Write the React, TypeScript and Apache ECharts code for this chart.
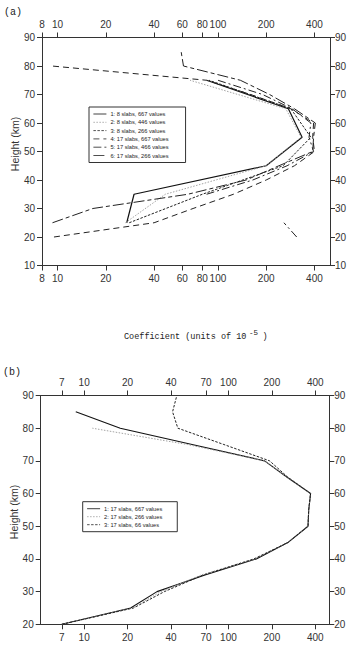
import React, { useEffect, useRef } from "react";
import * as echarts from "echarts";

// ---------- Panel (a) data ----------
const heightsA10 = [25, 35, 45, 55, 65, 75];
const heightsA5 = [20, 25, 30, 35, 40, 45, 50, 55, 60, 65, 70, 75, 80, 85];

const nameA1 = "1: 8 slabs, 667 values";
const nameA2 = "2: 8 slabs, 446 values";
const nameA3 = "3: 8 slabs, 266 values";
const nameA4 = "4: 17 slabs, 667 values";
const nameA5 = "5: 17 slabs, 466 values";
const nameA6 = "6: 17 slabs, 266 values";

const valuesA1 = [27, 30, 200, 335, 275, 85];
const valuesA2 = [26.5, 47, 200, 330, 265, 67];
const valuesA3 = [28, 80, 255, 380, 285, 88];
const valuesA4 = [9.5, 40, 70, 125, 200, 300, 400, 390, 395, 285, 160, 85, 9.2, null];
const valuesA5 = [310, 258, null, 85, 165, 270, 395, 370, 380, 290, 190, 100, null, null];
const valuesA6 = [null, 9.3, 16.6, 65, 150, 240, 390, 395, 405, 300, 210, 138, 61, 59];

const xTicksA = [8, 10, 20, 40, 60, 80, 100, 200, 400];

// ---------- Panel (b) data ----------
const heightsB = [20, 25, 30, 35, 40, 45, 50, 55, 60, 65, 70, 75, 80, 85, 90];

const nameB1 = "1: 17 slabs, 667 values";
const nameB2 = "2: 17 slabs, 266 values";
const nameB3 = "3: 17 slabs, 66 values";

const valuesB1 = [7, 21, 32, 68, 156, 258, 356, 360, 371, 255, 178, 56, 17.8, 8.75, null];
const valuesB2 = [7, 21.5, 34, 64, 152, 256, 356, 360, 371, 255, 178, 52, 11.4, null, null];
const valuesB3 = [7, 22, 36, 66, 150, 258, 356, 360, 371, 258, 193, 93, 44.6, 41, 43.9];

const xTicksB = [7, 10, 20, 40, 70, 100, 200, 400];

const AXIS_COLOR = "#333";
const TEXT_COLOR = "#333";
const FONT = "Liberation Sans";

function pairs(values: (number | null)[], heights: number[]) {
  return heights.map((h, i) => (values[i] == null ? ["-", h] : [values[i], h]));
}

function xAxisCfg(gridIndex: number, position: string, min: number, max: number, ticks: number[]) {
  return {
    type: "log",
    logBase: 10,
    gridIndex,
    position,
    min,
    max,
    axisLine: { show: true, onZero: false, lineStyle: { color: AXIS_COLOR, width: 1 } },
    axisTick: { show: true, customValues: ticks, length: 5, lineStyle: { color: AXIS_COLOR } },
    axisLabel: {
      show: true,
      customValues: ticks,
      margin: 8,
      fontSize: 10,
      color: TEXT_COLOR,
      fontFamily: FONT,
      formatter: (v: number) => String(Math.round(v)),
    },
    splitLine: { show: false },
    minorTick: { show: false },
    minorSplitLine: { show: false },
  };
}

function yAxisCfg(gridIndex: number, position: string, min: number, max: number) {
  return {
    type: "value",
    gridIndex,
    position,
    min,
    max,
    interval: 10,
    axisLine: { show: true, onZero: false, lineStyle: { color: AXIS_COLOR, width: 1 } },
    axisTick: { show: true, length: 5, lineStyle: { color: AXIS_COLOR } },
    axisLabel: { show: true, margin: position === "left" ? 7 : 5, fontSize: 10, color: TEXT_COLOR, fontFamily: FONT },
    splitLine: { show: false },
  };
}

function lineSeries(name: string, data: any[], xi: number, yi: number, type: any, color: string, width: number) {
  return {
    name,
    type: "line",
    xAxisIndex: xi,
    yAxisIndex: yi,
    data,
    symbol: "none",
    showSymbol: false,
    connectNulls: false,
    lineStyle: { color, width, type },
    itemStyle: { color },
    emphasis: { disabled: true },
  };
}

export default function App() {
  const ref = useRef<HTMLDivElement>(null);

  useEffect(() => {
    if (!ref.current) return;
    const chart = echarts.init(ref.current, null, { renderer: "svg" });

    const legendCommon = {
      orient: "vertical",
      itemWidth: 13,
      itemHeight: 6,
      itemGap: 2.3,
      borderColor: "#333",
      borderWidth: 1,
      backgroundColor: "#fff",
      textStyle: { fontSize: 5.7, color: "#222", fontFamily: FONT, padding: [0, 0, 0, -1] },
      selectedMode: false,
      itemStyle: { opacity: 0 },
      lineStyle: { width: 0.8 },
    };

    const option: any = {
      animation: false,
      backgroundColor: "#fff",
      grid: [
        { left: 42, top: 37.5, width: 288, height: 228, containLabel: false },
        { left: 40.7, top: 395.5, width: 288.6, height: 228.8, containLabel: false },
      ],
      xAxis: [
        xAxisCfg(0, "bottom", 8, 500, xTicksA),
        xAxisCfg(0, "top", 8, 500, xTicksA),
        xAxisCfg(1, "bottom", 5, 500, xTicksB),
        xAxisCfg(1, "top", 5, 500, xTicksB),
      ],
      yAxis: [
        yAxisCfg(0, "left", 10, 90),
        yAxisCfg(0, "right", 10, 90),
        yAxisCfg(1, "left", 20, 90),
        yAxisCfg(1, "right", 20, 90),
      ],
      legend: [
        {
          ...legendCommon,
          left: 89,
          top: 107,
          padding: [4, 17, 4, 4],
          data: [nameA1, nameA2, nameA3, nameA4, nameA5, nameA6],
        },
        {
          ...legendCommon,
          left: 82.7,
          top: 501.7,
          padding: [4, 15, 4, 4],
          itemGap: 2,
          data: [nameB1, nameB2, nameB3],
        },
      ],
      series: [
        lineSeries(nameA1, pairs(valuesA1, heightsA10), 0, 0, "solid", "#111", 1.2),
        lineSeries(nameA2, pairs(valuesA2, heightsA10), 0, 0, [1.5, 1.5], "#999", 0.9),
        lineSeries(nameA3, pairs(valuesA3, heightsA10), 0, 0, [2.5, 1.5], "#222", 1),
        lineSeries(nameA4, pairs(valuesA4, heightsA5), 0, 0, [6, 4], "#222", 1),
        lineSeries(nameA5, pairs(valuesA5, heightsA5), 0, 0, [8, 3, 2, 3], "#222", 1),
        lineSeries(nameA6, pairs(valuesA6, heightsA5), 0, 0, [11, 3, 4, 3], "#222", 1),
        lineSeries(nameB1, pairs(valuesB1, heightsB), 2, 2, "solid", "#111", 1.1),
        lineSeries(nameB2, pairs(valuesB2, heightsB), 2, 2, [1.5, 1.5], "#999", 0.9),
        lineSeries(nameB3, pairs(valuesB3, heightsB), 2, 2, [2.5, 1.5], "#222", 1),
      ],
      graphic: [
        {
          type: "text",
          x: 4,
          y: 12,
          style: { text: "(a)", fontSize: 10, fontFamily: "Liberation Mono", fill: "#222", verticalAlign: "middle" },
        },
        {
          type: "text",
          x: 3,
          y: 372,
          style: { text: "(b)", fontSize: 10, fontFamily: "Liberation Mono", fill: "#222", verticalAlign: "middle" },
        },
        {
          type: "text",
          x: 15,
          y: 144,
          rotation: Math.PI / 2,
          style: { text: "Height (km)", fontSize: 10.5, fontFamily: FONT, fill: TEXT_COLOR, align: "center", verticalAlign: "middle" },
        },
        {
          type: "text",
          x: 14,
          y: 512,
          rotation: Math.PI / 2,
          style: { text: "Height (km)", fontSize: 10.5, fontFamily: FONT, fill: TEXT_COLOR, align: "center", verticalAlign: "middle" },
        },
        {
          type: "text",
          x: 124,
          y: 337,
          style: {
            text: "Coefficient (units of 10",
            fontSize: 8.5,
            fontFamily: "Liberation Mono",
            fill: "#222",
            verticalAlign: "middle",
          },
        },
        {
          type: "text",
          x: 249,
          y: 332.5,
          style: { text: "-5", fontSize: 7.5, fontFamily: "Liberation Mono", fill: "#222", verticalAlign: "middle" },
        },
        {
          type: "text",
          x: 262.5,
          y: 337,
          style: { text: ")", fontSize: 8.5, fontFamily: "Liberation Mono", fill: "#222", verticalAlign: "middle" },
        },
      ],
    };

    chart.setOption(option);
    return () => chart.dispose();
  }, []);

  return (
    <div
      ref={ref}
      style={{ position: "fixed", left: 0, top: 0, width: 354, height: 646, background: "#fff" }}
    />
  );
}
